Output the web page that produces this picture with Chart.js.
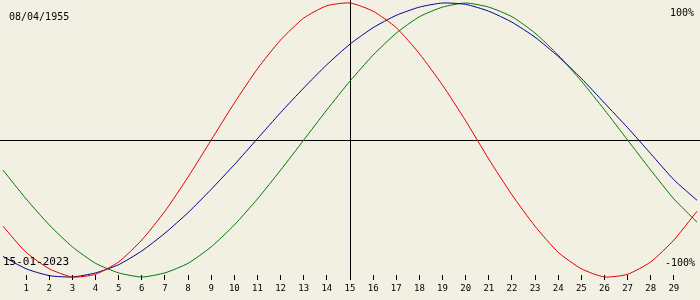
<!DOCTYPE html>
<html>
<head>
<meta charset="utf-8">
<script src="https://cdn.jsdelivr.net/npm/chart.js@4"></script>
<style>
  html, body { margin: 0; padding: 0; background: #f2efe3; }
  #wrap { width: 700px; height: 300px; }
</style>
</head>
<body>
<div id="wrap"><canvas id="c" width="700" height="300"></canvas></div>
<script>
// Day positions (0..30) and series values (-1..1 = -100%..100%)
const days = [0,1,2,3,4,5,6,7,8,9,10,11,12,13,14,15,16,17,18,19,20,21,22,23,24,25,26,27,28,29,30];
const dayLabels = ['','1','2','3','4','5','6','7','8','9','10','11','12','13','14','15','16','17','18','19','20','21','22','23','24','25','26','27','28','29',''];
const physical = [-0.63,-0.82,-0.94,-1.00,-0.98,-0.89,-0.73,-0.52,-0.27,0.00,0.27,0.52,0.73,0.89,0.98,1.00,0.94,0.82,0.63,0.40,0.14,-0.14,-0.40,-0.63,-0.82,-0.94,-1.00,-0.98,-0.89,-0.73,-0.52];
const emotional = [-0.22,-0.43,-0.62,-0.78,-0.90,-0.97,-1.00,-0.97,-0.90,-0.78,-0.62,-0.43,-0.22,0.00,0.22,0.43,0.62,0.78,0.90,0.97,1.00,0.97,0.90,0.78,0.62,0.43,0.22,0.00,-0.22,-0.43,-0.60];
const intellectual = [-0.85,-0.94,-0.99,-1.00,-0.97,-0.91,-0.81,-0.68,-0.53,-0.36,-0.18,0.01,0.20,0.38,0.55,0.70,0.82,0.91,0.97,1.00,0.99,0.94,0.86,0.75,0.61,0.45,0.27,0.09,-0.10,-0.29,-0.44];
const todayDay = 15;
const birthText = '08/04/1955';
const dateText = '15-01-2023';
const topText = '100%';
const bottomText = '-100%';

const toXY = arr => arr.map((v, i) => ({x: days[i], y: v}));
const mono = '"DejaVu Sans Mono", monospace';

const overlay = {
  id: 'overlay',
  beforeDatasetsDraw(chart) {
    const ctx = chart.ctx, xs = chart.scales.x, ys = chart.scales.y, a = chart.chartArea;
    ctx.save();
    ctx.fillStyle = '#000';
    const y0 = Math.round(ys.getPixelForValue(0));
    ctx.fillRect(0, y0, chart.width, 1);
    const xt = Math.round(xs.getPixelForValue(todayDay));
    ctx.fillRect(xt, 0, 1, a.bottom + 5);
    ctx.restore();
  },
  afterDraw(chart) {
    const ctx = chart.ctx;
    ctx.save();
    ctx.fillStyle = '#000';
    ctx.textBaseline = 'middle';
    ctx.font = '10px ' + mono;
    ctx.textAlign = 'left';
    ctx.fillText(birthText, 9, 17);
    ctx.textAlign = 'right';
    ctx.fillText(topText, 694, 13);
    ctx.fillText(bottomText, 695, 263);
    ctx.textAlign = 'left';
    ctx.font = '11px ' + mono;
    ctx.fillText(dateText, 3, 262);
    ctx.restore();
  }
};

new Chart(document.getElementById('c'), {
  type: 'line',
  data: {
    datasets: [
      {data: toXY(physical), borderColor: '#e00000', borderWidth: 1, pointRadius: 0, tension: 0.2, clip: false},
      {data: toXY(intellectual), borderColor: '#000090', borderWidth: 1, pointRadius: 0, tension: 0.2, clip: false},
      {data: toXY(emotional), borderColor: '#007800', borderWidth: 1, pointRadius: 0, tension: 0.2, clip: false}
    ]
  },
  options: {
    responsive: false,
    animation: false,
    devicePixelRatio: 1,
    layout: {padding: 0},
    plugins: {legend: {display: false}, tooltip: {enabled: false}},
    scales: {
      x: {
        type: 'linear', min: 0, max: 30,
        border: {display: false},
        grid: {
          drawOnChartArea: false, tickLength: 5, tickWidth: 1,
          tickColor: c => (c.tick && c.tick.value > 0 && c.tick.value < 30) ? '#000' : 'rgba(0,0,0,0)'
        },
        ticks: {
          stepSize: 1, autoSkip: false, maxRotation: 0, padding: 3,
          color: '#000', font: {family: mono, size: 9},
          callback: v => dayLabels[v] !== undefined ? dayLabels[v] : ''
        },
        afterFit: s => { s.height = 25; }
      },
      y: {
        display: false,
        min: -0.9854, max: 1.0219
      }
    }
  },
  plugins: [overlay]
});
</script>
</body>
</html>
